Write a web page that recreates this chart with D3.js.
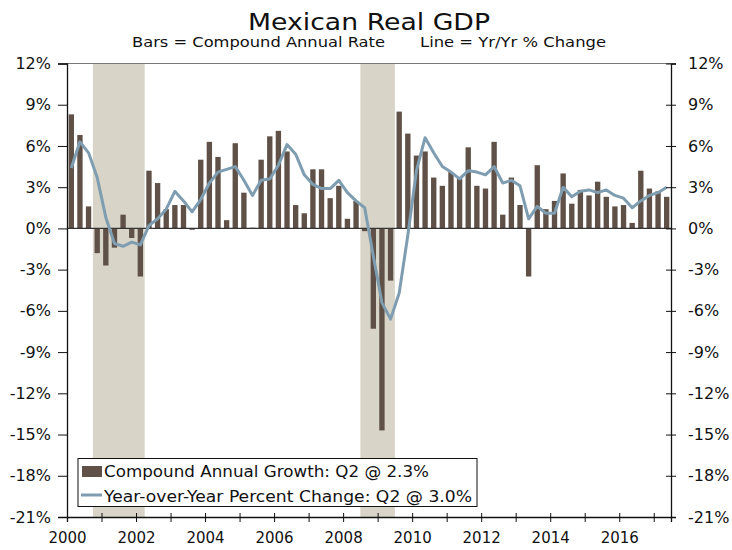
<!DOCTYPE html>
<html>
<head>
<meta charset="utf-8">
<script src="https://cdn.jsdelivr.net/npm/d3@7"></script>
<style>
  body { margin: 0; background: #fff; }
  text { font-family: "DejaVu Sans", Verdana, sans-serif; fill: #111; }
</style>
</head>
<body>
<div id="chart"></div>
<script>
// quarterly, 2000 Q1 .. 2017 Q2
const quarters = [];
for (let yr = 2000; yr <= 2017; yr++) {
	for (let q = 1; q <= 4; q++) {
		if (yr === 2017 && q > 2) break;
		quarters.push({ year: yr, q: q });
	}
}

// compound annual rate (bars)
const annualRate = [
	8.3, 6.8, 1.6, -1.8, -2.7, -1.4, 1.0, -0.7,
	-3.5, 4.2, 3.3, 1.4, 1.7, 1.7, -0.1, 5.0,
	6.3, 5.2, 0.6, 6.2, 2.6, 0.05, 5.0, 6.7,
	7.1, 5.6, 1.7, 1.1, 4.3, 4.3, 2.2, 3.1,
	0.7, 2.0, -0.2, -7.3, -14.7, -3.8, 8.5, 6.9,
	5.3, 5.6, 3.7, 3.1, 4.1, 3.6, 5.9, 3.1,
	2.9, 6.3, 1.0, 3.7, 1.7, -3.5, 4.6, 1.4,
	2.0, 4.0, 1.8, 2.8, 2.4, 3.4, 2.3, 1.6,
	1.7, 0.4, 4.2, 2.9, 2.7, 2.3
];

// year over year % change (line)
const yoyChange = [
	4.4, 6.3, 5.5, 3.7, 0.8, -1.1, -1.3, -1.0,
	-1.2, 0.2, 0.7, 1.4, 2.7, 2.0, 1.2, 2.1,
	3.3, 4.1, 4.3, 4.5, 3.5, 2.4, 3.5, 3.6,
	4.6, 6.1, 5.4, 3.9, 3.2, 2.9, 2.9, 3.5,
	2.6, 2.0, 1.5, -2.0, -5.4, -6.6, -4.7, -0.5,
	4.2, 6.6, 5.5, 4.5, 4.1, 3.6, 4.2, 4.1,
	3.9, 4.5, 3.3, 3.5, 3.1, 0.7, 1.6, 1.1,
	1.1, 3.0, 2.3, 2.7, 2.8, 2.6, 2.8, 2.4,
	2.2, 1.5, 2.0, 2.4, 2.6, 3.0
];

const recessions = [[2000.75, 2002.25], [2008.5, 2009.5]];
const yTicks = [12, 9, 6, 3, 0, -3, -6, -9, -12, -15, -18, -21];
const xTickYears = d3.range(2000, 2018);
const xLabelYears = [2000, 2002, 2004, 2006, 2008, 2010, 2012, 2014, 2016];

const W = 732, H = 550;
const barColor = "#5f5147", lineColor = "#7f9db1", shade = "#d8d4c7";

const svg = d3.select("#chart").append("svg")
	.attr("width", W)
	.attr("height", H);

const x = d3.scaleLinear()
	.domain([2000, 2017.5])
	.range([67, 671]);

const y = d3.scaleLinear()
	.domain([-21, 12])
	.range([517, 63.5]);

const band = x(2000.25) - x(2000);
const barW = band * 0.62;
const xc = i => x(quarters[i].year + (quarters[i].q - 1) / 4) + band / 2;

// recession shading
svg.selectAll(".rec")
	.data(recessions)
	.enter()
	.append("rect")
	.attr("x", d => x(d[0]))
	.attr("y", y(12))
	.attr("width", d => x(d[1]) - x(d[0]))
	.attr("height", y(-21) - y(12))
	.attr("fill", shade);

// top border
svg.append("line")
	.attr("x1", x(2000)).attr("x2", x(2017.5))
	.attr("y1", y(12)).attr("y2", y(12))
	.attr("stroke", "#777").attr("stroke-width", 1.2);

// bars
svg.selectAll(".bar")
	.data(annualRate)
	.enter()
	.append("rect")
	.attr("class", "bar")
	.attr("x", (d, i) => xc(i) - barW / 2)
	.attr("y", d => y(Math.max(0, d)))
	.attr("width", barW)
	.attr("height", d => Math.abs(y(d) - y(0)))
	.attr("fill", barColor);

// zero line
svg.append("line")
	.attr("x1", x(2000)).attr("x2", x(2017.5))
	.attr("y1", y(0)).attr("y2", y(0))
	.attr("stroke", "#333").attr("stroke-width", 1.3);

// yoy line
const line = d3.line()
	.x((d, i) => xc(i))
	.y(d => y(d));

svg.append("path")
	.datum(yoyChange)
	.attr("d", line)
	.attr("fill", "none")
	.attr("stroke", lineColor)
	.attr("stroke-width", 3)
	.attr("stroke-linejoin", "round");

// left axis
const yLeft = d3.axisLeft(y)
	.tickValues(yTicks)
	.tickSize(9)
	.tickPadding(7)
	.tickFormat(d => d + "%");

svg.append("g")
	.attr("transform", `translate(${x(2000)},0)`)
	.call(yLeft)
	.call(g => g.selectAll("text").style("font-size", "16px").attr("fill", "#111"));

// right axis
const yRight = d3.axisRight(y)
	.tickValues(yTicks)
	.tickSize(5)
	.tickPadding(12)
	.tickFormat(d => d + "%");

svg.append("g")
	.attr("transform", `translate(${x(2017.5)},0)`)
	.call(yRight)
	.call(g => g.selectAll(".tick line").attr("x1", -5))
	.call(g => g.selectAll("text").style("font-size", "16px").attr("fill", "#111"));

// bottom axis
const xAxis = d3.axisBottom(x)
	.tickValues(xTickYears)
	.tickSize(5)
	.tickPadding(10)
	.tickFormat(d => xLabelYears.includes(d) ? d : "");

svg.append("g")
	.attr("transform", `translate(0,${y(-21)})`)
	.call(xAxis)
	.call(g => g.selectAll(".tick line").attr("y1", -4))
	.call(g => g.selectAll("text").style("font-size", "15px").attr("fill", "#111"));

svg.selectAll(".domain").attr("stroke", "#111").attr("stroke-width", 1.3);
svg.selectAll(".tick line").attr("stroke", "#111");

// titles
svg.append("text")
	.attr("x", 369).attr("y", 30)
	.attr("text-anchor", "middle")
	.attr("textLength", 242)
	.attr("lengthAdjust", "spacingAndGlyphs")
	.style("font-size", "23px")
	.text("Mexican Real GDP");

svg.append("text")
	.attr("x", 132).attr("y", 47)
	.attr("textLength", 253)
	.attr("lengthAdjust", "spacingAndGlyphs")
	.style("font-size", "14px")
	.text("Bars = Compound Annual Rate");

svg.append("text")
	.attr("x", 420).attr("y", 47)
	.attr("textLength", 186)
	.attr("lengthAdjust", "spacingAndGlyphs")
	.style("font-size", "14px")
	.text("Line = Yr/Yr % Change");

// legend
const lg = svg.append("g");
lg.append("rect")
	.attr("x", 78).attr("y", 458.5)
	.attr("width", 399).attr("height", 48)
	.attr("fill", "#fff")
	.attr("stroke", "#111").attr("stroke-width", 1);
lg.append("rect")
	.attr("x", 82).attr("y", 466)
	.attr("width", 20).attr("height", 11)
	.attr("fill", barColor);
lg.append("text")
	.attr("x", 104).attr("y", 477)
	.attr("textLength", 325)
	.attr("lengthAdjust", "spacingAndGlyphs")
	.style("font-size", "16.5px")
	.text("Compound Annual Growth: Q2 @ 2.3%");
lg.append("line")
	.attr("x1", 81).attr("x2", 102)
	.attr("y1", 495).attr("y2", 495)
	.attr("stroke", lineColor).attr("stroke-width", 3);
lg.append("text")
	.attr("x", 104).attr("y", 502)
	.attr("textLength", 368)
	.attr("lengthAdjust", "spacingAndGlyphs")
	.style("font-size", "16.5px")
	.text("Year-over-Year Percent Change: Q2 @ 3.0%");
</script>
</body>
</html>
